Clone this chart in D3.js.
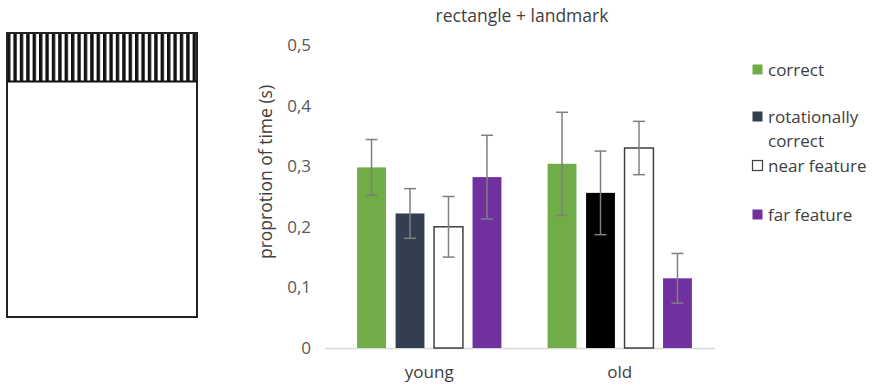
<!DOCTYPE html>
<html>
<head>
<meta charset="utf-8">
<script src="https://cdn.jsdelivr.net/npm/d3@7"></script>
<style>
  body { margin: 0; background: #fff; }
  svg { display: block; font-family: 'Open Sans', 'Noto Sans', sans-serif; }
</style>
</head>
<body>
<div id="chart"></div>
<script>
// data
const groups = ['young', 'old'];
const series = ['correct', 'rotationally correct', 'near feature', 'far feature'];
const young = [0.298, 0.222, 0.200, 0.282];
const youngErr = [0.046, 0.041, 0.050, 0.069];
const old = [0.304, 0.256, 0.330, 0.115];
const oldErr = [0.085, 0.069, 0.044, 0.041];
const yTicks = [0, 0.1, 0.2, 0.3, 0.4, 0.5];
const tickLabels = ['0', '0,1', '0,2', '0,3', '0,4', '0,5'];

const fills = {
    young: ['#70ad47', '#333f50', '#ffffff', '#7030a0'],
    old: ['#70ad47', '#000000', '#ffffff', '#7030a0'],
};
const legendFills = ['#70ad47', '#333f50', '#ffffff', '#7030a0'];

const dimensions = {
    width: 878,
    height: 389,
    left: 334,
    right: 715,
    top: 45,
    bottom: 348,
};

const svg = d3
    .select('#chart')
    .append('svg')
    .attr('width', dimensions.width)
    .attr('height', dimensions.height);

/* left schematic: rectangle with striped landmark on top */
const defs = svg.append('defs');
defs.append('pattern')
    .attr('id', 'stripes')
    .attr('patternUnits', 'userSpaceOnUse')
    .attr('x', 7)
    .attr('width', 6.4)
    .attr('height', 10)
    .append('rect')
    .attr('x', 0)
    .attr('y', 0)
    .attr('width', 3.4)
    .attr('height', 10)
    .attr('fill', '#111');

svg.append('rect')
    .attr('x', 7)
    .attr('y', 33)
    .attr('width', 190)
    .attr('height', 49)
    .attr('fill', 'url(#stripes)');
svg.append('rect')
    .attr('x', 7)
    .attr('y', 33)
    .attr('width', 190)
    .attr('height', 284)
    .attr('fill', 'none')
    .attr('stroke', '#222')
    .attr('stroke-width', 2);
svg.append('line')
    .attr('x1', 7)
    .attr('x2', 197)
    .attr('y1', 81.5)
    .attr('y2', 81.5)
    .attr('stroke', '#111')
    .attr('stroke-width', 2);

/* scales */
const x0 = d3
    .scaleBand()
    .domain(groups)
    .range([dimensions.left, dimensions.right]);

const x1 = d3
    .scaleBand()
    .domain(series)
    .range([0, x0.bandwidth()])
    .paddingInner(0.25)
    .paddingOuter(0.6);

const y = d3
    .scaleLinear()
    .domain([0, 0.5])
    .range([dimensions.bottom, dimensions.top]);

/* title */
svg.append('text')
    .attr('x', 522)
    .attr('y', 22)
    .attr('text-anchor', 'middle')
    .attr('font-size', 17.5)
    .attr('fill', '#404040')
    .text('rectangle + landmark');

/* y axis labels */
const yAxis = d3
    .axisLeft(y)
    .tickValues(yTicks)
    .tickSize(0)
    .tickPadding(0)
    .tickFormat((d, i) => tickLabels[i]);

const gY = svg.append('g').attr('transform', 'translate(311, 0)').call(yAxis);
gY.select('.domain').remove();
gY.selectAll('text')
    .attr('font-size', 17)
    .attr('font-family', "'Open Sans', 'Noto Sans', sans-serif")
    .attr('fill', '#595959');

svg.append('text')
    .attr('transform', `translate(272, 172) rotate(-90)`)
    .attr('text-anchor', 'middle')
    .attr('font-size', 17.5)
    .attr('fill', '#404040')
    .text('proprotion of time (s)');

/* baseline + category labels */
const xAxis = d3.axisBottom(x0).tickSize(0).tickPadding(18);
const gX = svg.append('g').attr('transform', `translate(0, ${dimensions.bottom})`).call(xAxis);
gX.select('.domain')
    .attr('d', `M${dimensions.left - 9},0.5H${dimensions.right}`)
    .attr('stroke', '#d9d9d9')
    .attr('stroke-width', 1.5);
gX.selectAll('text')
    .attr('font-size', 17)
    .attr('font-family', "'Open Sans', 'Noto Sans', sans-serif")
    .attr('fill', '#404040');

/* bars */
const rows = [
    { group: 'young', values: young, errs: youngErr },
    { group: 'old', values: old, errs: oldErr },
];

rows.forEach(row => {
    const g = svg.append('g').attr('transform', `translate(${x0(row.group)}, 0)`);
    const data = series.map((s, i) => ({
        key: s,
        value: row.values[i],
        err: row.errs[i],
        fill: fills[row.group][i],
    }));

    g.selectAll('rect')
        .data(data)
        .join('rect')
        .attr('x', d => x1(d.key))
        .attr('y', d => y(d.value))
        .attr('width', x1.bandwidth())
        .attr('height', d => y(0) - y(d.value))
        .attr('fill', d => d.fill)
        .attr('stroke', d => (d.fill === '#ffffff' ? '#404040' : 'none'))
        .attr('stroke-width', 1.5);

    /* error bars */
    const cap = 6;
    const eb = g.selectAll('g.err')
        .data(data)
        .join('g')
        .attr('class', 'err')
        .attr('stroke', '#7f7f7f')
        .attr('stroke-width', 1.5);
    eb.append('line')
        .attr('x1', d => x1(d.key) + x1.bandwidth() / 2)
        .attr('x2', d => x1(d.key) + x1.bandwidth() / 2)
        .attr('y1', d => y(d.value + d.err))
        .attr('y2', d => y(d.value - d.err));
    eb.append('line')
        .attr('x1', d => x1(d.key) + x1.bandwidth() / 2 - cap)
        .attr('x2', d => x1(d.key) + x1.bandwidth() / 2 + cap)
        .attr('y1', d => y(d.value + d.err))
        .attr('y2', d => y(d.value + d.err));
    eb.append('line')
        .attr('x1', d => x1(d.key) + x1.bandwidth() / 2 - cap)
        .attr('x2', d => x1(d.key) + x1.bandwidth() / 2 + cap)
        .attr('y1', d => y(d.value - d.err))
        .attr('y2', d => y(d.value - d.err));
});

/* legend */
const legendItems = [
    { lines: ['correct'], y: 70 },
    { lines: ['rotationally', 'correct'], y: 117 },
    { lines: ['near feature'], y: 166 },
    { lines: ['far feature'], y: 215 },
];

const legend = svg.append('g');
legendItems.forEach((item, i) => {
    legend.append('rect')
        .attr('x', 752.5)
        .attr('y', item.y - 5.5)
        .attr('width', 10)
        .attr('height', 10)
        .attr('fill', legendFills[i])
        .attr('stroke', legendFills[i] === '#ffffff' ? '#404040' : 'none')
        .attr('stroke-width', 1.2);
    item.lines.forEach((t, j) => {
        legend.append('text')
            .attr('x', 768)
            .attr('y', item.y + j * 24)
            .attr('dy', '0.35em')
            .attr('font-size', 17)
            .attr('fill', '#404040')
            .text(t);
    });
});
</script>
</body>
</html>
